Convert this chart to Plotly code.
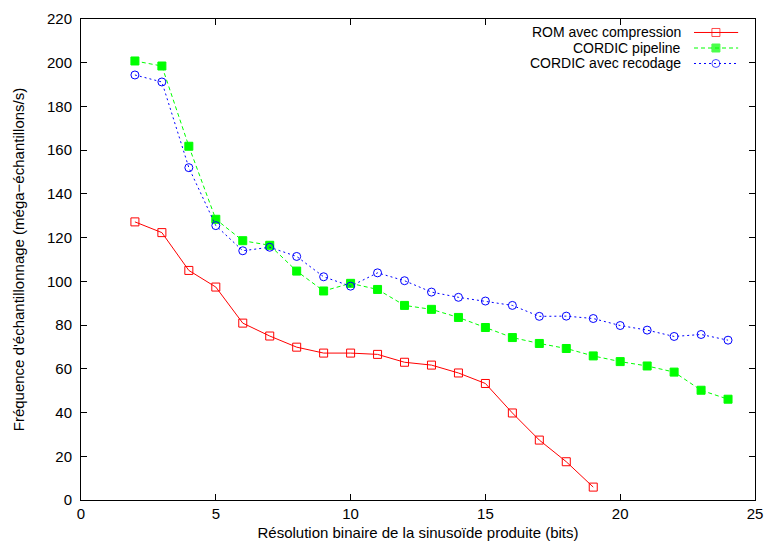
import plotly.graph_objects as go

bits = list(range(2, 25))
rom_bits = list(range(2, 20))
rom = [127.2, 122.3, 105.0, 97.4, 80.9, 75.0, 69.9, 67.2, 67.2, 66.6, 63.0, 61.7,
       58.1, 53.3, 39.8, 27.4, 17.5, 5.9]
pipeline = [200.8, 198.5, 161.8, 128.4, 118.6, 116.5, 104.7, 95.6, 99.1, 96.3, 89.0,
            87.2, 83.5, 78.9, 74.3, 71.6, 69.3, 65.9, 63.3, 61.3, 58.5, 50.2, 46.1]
recodage = [194.4, 191.2, 152.0, 125.5, 114.0, 115.6, 111.4, 102.1, 97.8, 103.9, 100.3,
            95.1, 92.7, 91.0, 89.0, 84.0, 84.1, 83.0, 79.8, 77.7, 74.8, 75.7, 73.1]
names = ["ROM avec compression", "CORDIC pipeline", "CORDIC avec recodage"]

FONT = "Liberation Sans, Arial, sans-serif"
FS = 15
KEY_FS = 14
styles = [
    dict(color="#ff0000", dash="solid", symbol="square-open", size=8),
    dict(color="#00ff00", dash="4px,3px", symbol="square", size=8),
    dict(color="#0000ff", dash="2px,3px", symbol="circle-open", size=8),
]

fig = go.Figure()
series = [(rom_bits, rom), (bits, pipeline), (bits, recodage)]
for (xs, ys), st, nm in zip(series, styles, names):
    fig.add_trace(go.Scatter(
        x=xs, y=ys, mode="lines+markers", name=nm,
        line=dict(color=st["color"], width=1, dash=st["dash"]),
        marker=dict(symbol=st["symbol"], size=st["size"], color=st["color"],
                    line=dict(color=st["color"], width=1)),
        showlegend=False, cliponaxis=False,
    ))

# gnuplot-like key: text on the left, sample on the right
rows = [0.972, 0.9397, 0.9075]
for st, nm, ry in zip(styles, names, rows):
    fig.add_annotation(x=0.893, y=ry, xref="paper", yref="paper", text=nm,
                       showarrow=False, xanchor="right", yanchor="middle",
                       font=dict(family=FONT, size=KEY_FS, color="black"))
    fig.add_trace(go.Scatter(
        x=[0.9095, 0.942, 0.975], y=[ry, ry, ry], xaxis="x2", yaxis="y2",
        mode="lines+markers", showlegend=False, hoverinfo="skip",
        line=dict(color=st["color"], width=1, dash=st["dash"]),
        marker=dict(symbol=st["symbol"], size=[0, st["size"], 0], color=st["color"],
                    line=dict(color=st["color"], width=1)),
    ))

axis_common = dict(
    showline=True, linecolor="black", linewidth=1, mirror="ticks",
    ticks="inside", ticklen=6, tickcolor="black", showgrid=False, zeroline=False,
    tickfont=dict(family=FONT, size=FS, color="black"), automargin=False,
)
fig.update_layout(
    width=766, height=545,
    margin=dict(l=81, r=11, t=19, b=45),
    paper_bgcolor="white", plot_bgcolor="white",
    font=dict(family=FONT, size=FS, color="black"),
    xaxis=dict(range=[0, 25], dtick=5, tick0=0, ticklabelstandoff=0,
               title=dict(text="Résolution binaire de la sinusoïde produite (bits)",
                          font=dict(family=FONT, size=FS), standoff=6),
               **axis_common),
    yaxis=dict(range=[0, 220], dtick=20, tick0=0, ticklabelstandoff=5,
               title=dict(text="Fréquence d'échantillonnage (méga−échantillons/s)",
                          font=dict(family=FONT, size=FS), standoff=18),
               **axis_common),
    xaxis2=dict(overlaying="x", range=[0, 1], visible=False),
    yaxis2=dict(overlaying="y", range=[0, 1], visible=False),
)

fig.write_html(
    "out.html",
    config={"displayModeBar": False},
    post_script="document.body.style.margin='0';document.body.style.overflow='hidden';",
)
